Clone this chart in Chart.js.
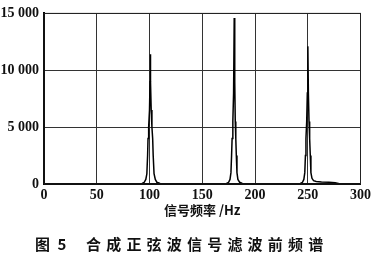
<!DOCTYPE html>
<html>
<head>
<meta charset="utf-8">
<script src="https://cdn.jsdelivr.net/npm/chart.js@4"></script>
<style>
    body { margin: 0; background: #fff; }
    #wrap { position: relative; width: 374px; height: 258px; }
    .cap {
        position: absolute; top: 234px;
        font-family: "Noto Sans CJK SC"; font-weight: 700; font-size: 15px;
        color: #111; white-space: pre; line-height: 20px;
    }
    #capNum { left: 35px; letter-spacing: 2px; }
    #capText { left: 86px; letter-spacing: 5.2px; }
</style>
</head>
<body>
<div id="wrap">
    <canvas id="spectrumChart" width="374" height="258"></canvas>
    <div class="cap" id="capNum">图 5</div>
    <div class="cap" id="capText">合成正弦波信号滤波前频谱</div>
</div>
<script>
// frequency (Hz) and amplitude
const freqHz = [
    0, 90, 93, 95, 96.5, 97.5, 98.2, 98.6, 99.2, 100, 100.5, 100.8, 101.1, 101.6, 102.3, 103, 103.5, 104.3, 105.5, 107, 110, 114,
    170, 173, 175, 176.3, 177.2, 177.8, 178.3, 179, 179.7, 180.3, 180.8, 181.3, 181.8, 182.3, 182.9, 183.8, 185.5, 188, 192,
    240, 243, 245, 246.3, 247.2, 247.8, 248.3, 249, 249.6, 250.1, 250.6, 251.2, 251.8, 252.4, 253, 254, 255.5, 258, 263, 270, 276, 280, 285, 300
];
const amplitude = [
    0, 0, 50, 150, 400, 900, 2500, 4000, 5000, 6500, 9000, 11400, 9000, 6500, 5000, 4000, 2500, 900, 400, 150, 50, 0,
    0, 50, 150, 400, 1000, 2500, 4000, 5500, 8000, 14600, 9000, 5500, 4000, 2500, 1000, 400, 150, 50, 0,
    0, 50, 150, 400, 1000, 2500, 4000, 5500, 8000, 12100, 8000, 5500, 4000, 2500, 1000, 500, 300, 220, 180, 150, 100, 30, 0, 0
];
const yTickValues = [0, 5000, 10000, 15000];
const yTickLabels = ['0', '5 000', '10 000', '15 000'];
const xAxisTitle = '信号频率 /Hz';

const points = freqHz.map((f, i) => ({ x: f, y: amplitude[i] }));

const frame = {
    id: 'frame',
    afterDraw(chart) {
        const { ctx, chartArea: a } = chart;
        ctx.save();
        ctx.strokeStyle = '#222';
        ctx.lineWidth = 1;
        ctx.strokeRect(a.left, a.top, a.right - a.left, a.bottom - a.top);
        ctx.restore();
    }
};

const tickFont = { family: '"Liberation Serif", "Times New Roman", serif', size: 14, weight: 'bold' };

new Chart(document.getElementById('spectrumChart').getContext('2d'), {
    type: 'line',
    data: {
        datasets: [{
            data: points,
            borderColor: '#000',
            borderWidth: 1.5,
            pointRadius: 0,
            tension: 0,
            fill: false
        }]
    },
    options: {
        responsive: false,
        animation: false,
        layout: { padding: { left: 0, right: 11, top: 10, bottom: 40 } },
        plugins: { legend: { display: false }, tooltip: { enabled: false } },
        scales: {
            x: {
                type: 'linear',
                min: 0,
                max: 300,
                ticks: { stepSize: 50, color: '#111', font: tickFont, padding: 3, maxRotation: 0 },
                grid: { color: '#333', lineWidth: 1, borderDash: [2, 2], drawTicks: false },
                border: { color: '#000', width: 2 },
                title: {
                    display: true,
                    text: xAxisTitle,
                    color: '#111',
                    font: { family: '"Noto Sans CJK SC"', size: 13, weight: 'bold' },
                    padding: 0
                },
                afterFit(axis) { axis.height = 34; }
            },
            y: {
                min: 0,
                max: 15000,
                afterBuildTicks(axis) { axis.ticks = yTickValues.map(v => ({ value: v })); },
                ticks: {
                    color: '#111',
                    font: tickFont,
                    padding: 5,
                    callback: (v) => yTickLabels[yTickValues.indexOf(v)]
                },
                grid: { color: '#333', lineWidth: 1, borderDash: [2, 2], drawTicks: false },
                border: { color: '#000', width: 2 },
                afterFit(axis) { axis.width = 44; }
            }
        }
    },
    plugins: [frame]
});
</script>
</body>
</html>
